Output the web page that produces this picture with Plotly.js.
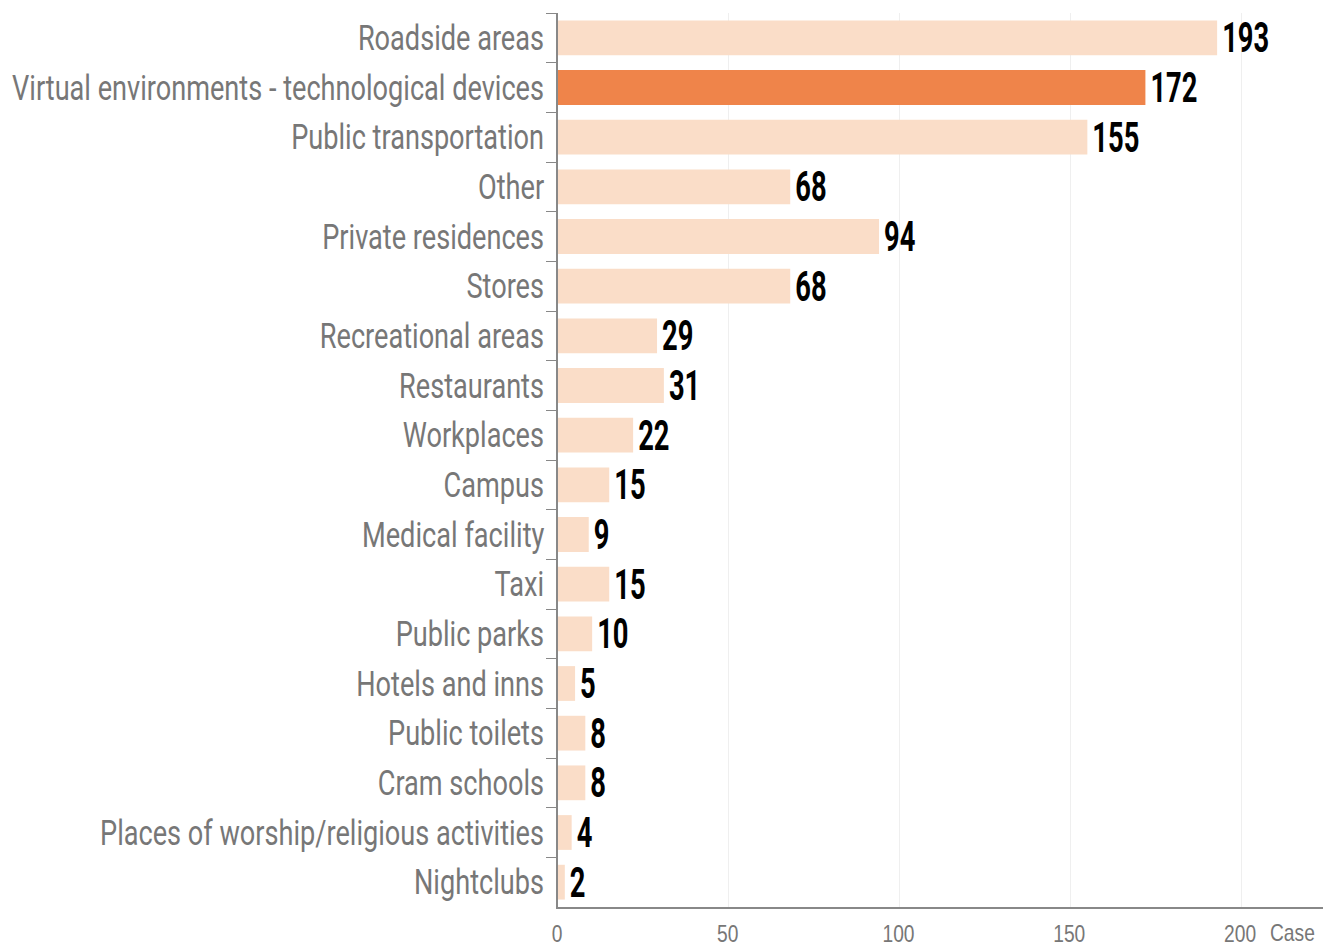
<!DOCTYPE html>
<html><head><meta charset="utf-8">
<script src="https://cdn.plot.ly/plotly-3.0.1.min.js"></script>
<style>body{margin:0;background:#fff}#chart{width:1323px;height:948px}</style>
</head><body><div id="chart"></div>
<script>
const categories = ["Roadside areas","Virtual environments - technological devices","Public transportation","Other","Private residences","Stores","Recreational areas","Restaurants","Workplaces","Campus","Medical facility","Taxi","Public parks","Hotels and inns","Public toilets","Cram schools","Places of worship/religious activities","Nightclubs"];
const values = [193,172,155,68,94,68,29,31,22,15,9,15,10,5,8,8,4,2];
const highlight = "Virtual environments - technological devices";
const tickVals = [0,50,100,150,200];
const tickText = ["0","50","100","150","200"];
const unitLabel = "Case";

const FONT = "Roboto, 'Noto Sans', sans-serif";
const AXFONT = "'Liberation Sans', Arial, sans-serif";
const GRAY = "#777";
const colors = categories.map(c => c === highlight ? "#EF844A" : "#FADDC8");

const gd = document.getElementById("chart");
Plotly.newPlot(gd, [{
  type: "bar", orientation: "h",
  x: values, y: categories,
  marker: {color: colors},
  width: 0.7,
  text: values.map(String), textposition: "outside",
  constraintext: "none",
  textfont: {family: FONT, size: 42, color: "#000", weight: "bold"},
  cliponaxis: false,
  hoverinfo: "none"
}], {
  width: 1323, height: 948,
  margin: {l: 558, r: 0, t: 13, b: 41},
  paper_bgcolor: "#fff", plot_bgcolor: "#fff",
  showlegend: false,
  xaxis: {range: [0, 224], tickvals: tickVals, ticktext: tickText,
    showgrid: true, gridcolor: "#efefef", zeroline: false,
    showline: true, linecolor: "#888", linewidth: 2,
    tickfont: {family: AXFONT, size: 24, color: GRAY},
    ticklabelstandoff: 4,
    ticks: "", automargin: false, fixedrange: true},
  yaxis: {autorange: "reversed", categoryorder: "array", categoryarray: categories,
    showline: true, linecolor: "#888", linewidth: 2,
    ticks: "outside", tickson: "boundaries", ticklen: 10, tickcolor: "#888", tickwidth: 1,
    ticklabelstandoff: 5,
    tickfont: {family: FONT, size: 35, color: GRAY},
    showgrid: false, zeroline: false, automargin: false, fixedrange: true},
  annotations: [{x: tickVals[tickVals.length-1], xref: "x", y: 0, yref: "paper",
    text: unitLabel, showarrow: false, xanchor: "left", yanchor: "top",
    xshift: 27, yshift: -10, font: {family: AXFONT, size: 24, color: GRAY}}]
}, {displayModeBar: false, staticPlot: true}).then(() => {
  // condense text horizontally (reference uses a condensed typeface)
  function condense(nodes, f, mode, shift) {
    nodes.forEach(t => {
      const b = t.getBBox();
      if (!b.width) return;
      const w = b.width * f;
      let left;
      if (mode === "end") left = b.x + b.width - w;
      else if (mode === "middle") left = b.x + (b.width - w) / 2;
      else left = b.x;
      t.setAttribute("text-anchor", "start");
      t.setAttribute("x", left + (shift || 0));
      t.setAttribute("textLength", w);
      t.setAttribute("lengthAdjust", "spacingAndGlyphs");
    });
  }
  condense(gd.querySelectorAll(".ytick text"), 0.775, "end");
  condense(gd.querySelectorAll(".xtick text"), 0.8, "middle", -1);
  condense(gd.querySelectorAll("text.bartext"), 0.65, "left", 2);
  condense(gd.querySelectorAll(".annotation-text-g text"), 0.8, "left");
});
</script></body></html>
